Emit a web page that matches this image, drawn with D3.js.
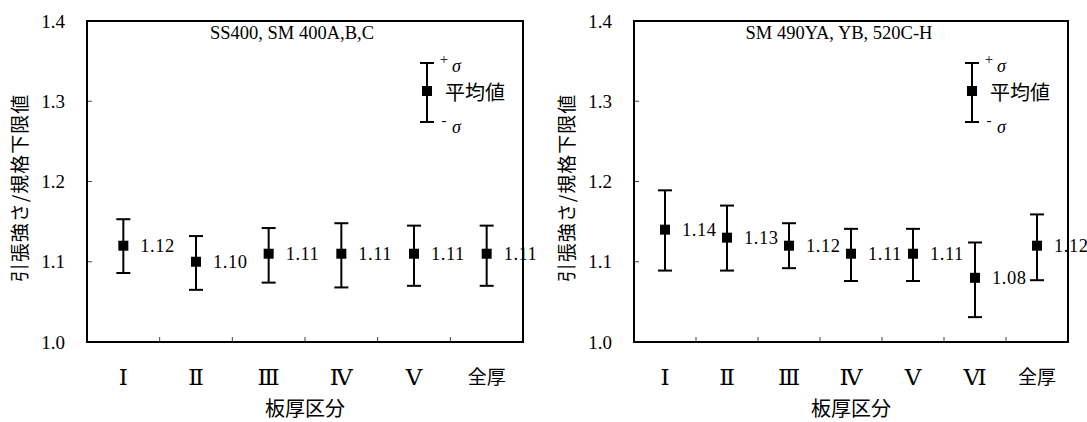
<!DOCTYPE html>
<html>
<head>
<meta charset="utf-8">
<script src="https://cdn.jsdelivr.net/npm/d3@7"></script>
<style>
  html, body { margin: 0; padding: 0; background: #fff; }
  svg { display: block; }
</style>
</head>
<body>
<svg id="chart" width="1087" height="422"></svg>
<script>
// 引張強さ/規格下限値 by thickness class — two steel grade groups
const leftTitle = "SS400, SM 400A,B,C";
const leftCategories = ["Ⅰ", "Ⅱ", "Ⅲ", "Ⅳ", "Ⅴ", "全厚"];
const leftMean  = [1.12, 1.10, 1.11, 1.11, 1.11, 1.11];
const leftUpper = [1.153, 1.132, 1.142, 1.148, 1.145, 1.145];
const leftLower = [1.086, 1.065, 1.074, 1.068, 1.070, 1.070];

const rightTitle = "SM 490YA, YB, 520C-H";
const rightCategories = ["Ⅰ", "Ⅱ", "Ⅲ", "Ⅳ", "Ⅴ", "Ⅵ", "全厚"];
const rightMean  = [1.14, 1.13, 1.12, 1.11, 1.11, 1.08, 1.12];
const rightUpper = [1.189, 1.170, 1.148, 1.141, 1.141, 1.124, 1.159];
const rightLower = [1.089, 1.089, 1.092, 1.076, 1.076, 1.031, 1.077];

const yTicks = [1.0, 1.1, 1.2, 1.3, 1.4];
const yTitle = "引張強さ/規格下限値";
const xTitle = "板厚区分";

const serif = "'Liberation Serif', 'Times New Roman', serif";
const sans = "'Noto Sans CJK JP', 'Noto Sans', sans-serif";
const numeralFont = "'DejaVu Serif', 'Liberation Serif', serif";

const svg = d3.select("#chart");

function drawPanel(opt) {
  const g = svg.append("g");
  const x = d3.scaleBand().domain(opt.categories).range([opt.x0, opt.x1]);
  const y = d3.scaleLinear().domain([1.0, 1.4]).range([342, 21]);
  const cx = d => x(d) + x.bandwidth() / 2;

  // y tick labels and inner tick marks
  g.selectAll(".ylab").data(yTicks).join("text")
    .attr("x", opt.x0 - 34).attr("y", d => y(d)).attr("dy", "0.35em")
    .attr("text-anchor", "middle")
    .style("font-family", serif).style("font-size", "19px")
    .text(d => d.toFixed(1));
  g.selectAll(".ytick").data(yTicks.slice(1, -1)).join("line")
    .attr("x1", opt.x0).attr("x2", opt.x0 + 5)
    .attr("y1", d => y(d)).attr("y2", d => y(d))
    .attr("stroke", "#444").attr("stroke-width", 1);

  // x tick marks at category boundaries
  g.selectAll(".xtick").data(opt.categories.slice(1)).join("line")
    .attr("x1", d => x(d)).attr("x2", d => x(d))
    .attr("y1", 342).attr("y2", 337)
    .attr("stroke", "#444").attr("stroke-width", 1);

  // category labels
  const isNumeral = d => /[Ⅰ-Ⅻ]/.test(d);
  g.selectAll(".xlab").data(opt.categories).join("text")
    .attr("x", cx).attr("y", 377).attr("dy", "0.35em")
    .attr("text-anchor", "middle")
    .style("font-family", d => isNumeral(d) ? numeralFont : sans)
    .style("font-size", d => isNumeral(d) ? "23px" : "19px")
    .text(d => d);

  // frame
  g.append("rect")
    .attr("x", opt.x0).attr("y", 21)
    .attr("width", opt.x1 - opt.x0).attr("height", 342 - 21)
    .attr("fill", "none").attr("stroke", "#000").attr("stroke-width", 2);

  // panel title
  g.append("text")
    .attr("x", opt.titleX).attr("y", 33).attr("dy", "0.35em")
    .attr("text-anchor", "middle")
    .style("font-family", serif).style("font-size", "18.5px")
    .text(opt.title);

  // axis titles
  g.append("text")
    .attr("transform", `translate(${opt.x0 - 67},188) rotate(-90)`)
    .attr("dy", "0.35em").attr("text-anchor", "middle")
    .style("font-family", sans).style("font-size", "19px")
    .style("letter-spacing", "1px")
    .text(yTitle);
  g.append("text")
    .attr("x", (opt.x0 + opt.x1) / 2).attr("y", 409).attr("dy", "0.35em")
    .attr("text-anchor", "middle")
    .style("font-family", sans).style("font-size", "20px")
    .text(xTitle);

  // error bars (mean ± σ)
  const rows = opt.categories.map((c, i) => ({
    c, mean: opt.mean[i], hi: opt.upper[i], lo: opt.lower[i]
  }));
  const bars = g.selectAll(".bar").data(rows).join("g");
  bars.append("line")
    .attr("x1", d => cx(d.c)).attr("x2", d => cx(d.c))
    .attr("y1", d => y(d.hi)).attr("y2", d => y(d.lo))
    .attr("stroke", "#000").attr("stroke-width", 2);
  ["hi", "lo"].forEach(k => {
    bars.append("line")
      .attr("x1", d => cx(d.c) - 7).attr("x2", d => cx(d.c) + 7)
      .attr("y1", d => y(d[k])).attr("y2", d => y(d[k]))
      .attr("stroke", "#000").attr("stroke-width", 2);
  });
  bars.append("rect")
    .attr("x", d => cx(d.c) - 5).attr("y", d => y(d.mean) - 5)
    .attr("width", 10).attr("height", 10).attr("fill", "#000");
  bars.append("text")
    .attr("x", d => cx(d.c) + 17).attr("y", d => y(d.mean)).attr("dy", "0.35em")
    .style("font-family", serif).style("font-size", "18.5px")
    .style("letter-spacing", "0.5px")
    .text(d => d.mean.toFixed(2));

  // legend
  const lx = opt.x1 - 96;
  const lg = g.append("g");
  lg.append("line").attr("x1", lx).attr("x2", lx).attr("y1", 63).attr("y2", 122)
    .attr("stroke", "#000").attr("stroke-width", 2);
  [63, 122].forEach(v => lg.append("line")
    .attr("x1", lx - 7).attr("x2", lx + 7).attr("y1", v).attr("y2", v)
    .attr("stroke", "#000").attr("stroke-width", 2));
  lg.append("rect").attr("x", lx - 5).attr("y", 86).attr("width", 10).attr("height", 10)
    .attr("fill", "#000");
  const sig = (yy, sign) => {
    lg.append("text").attr("x", lx + 17).attr("y", yy - 3)
      .attr("text-anchor", "middle")
      .style("font-family", serif).style("font-size", "15px").text(sign);
    lg.append("text").attr("x", lx + 25).attr("y", yy + 5)
      .style("font-family", serif).style("font-size", "18px")
      .style("font-style", "italic").text("σ");
  };
  sig(67, "+");
  sig(128, "-");
  lg.append("text").attr("x", lx + 18).attr("y", 93).attr("dy", "0.35em")
    .style("font-family", sans).style("font-size", "20px")
    .text("平均値");
}

drawPanel({
  x0: 87, x1: 523, titleX: 292, title: leftTitle,
  categories: leftCategories, mean: leftMean, upper: leftUpper, lower: leftLower
});
drawPanel({
  x0: 634, x1: 1068, titleX: 839, title: rightTitle,
  categories: rightCategories, mean: rightMean, upper: rightUpper, lower: rightLower
});
</script>
</body>
</html>
